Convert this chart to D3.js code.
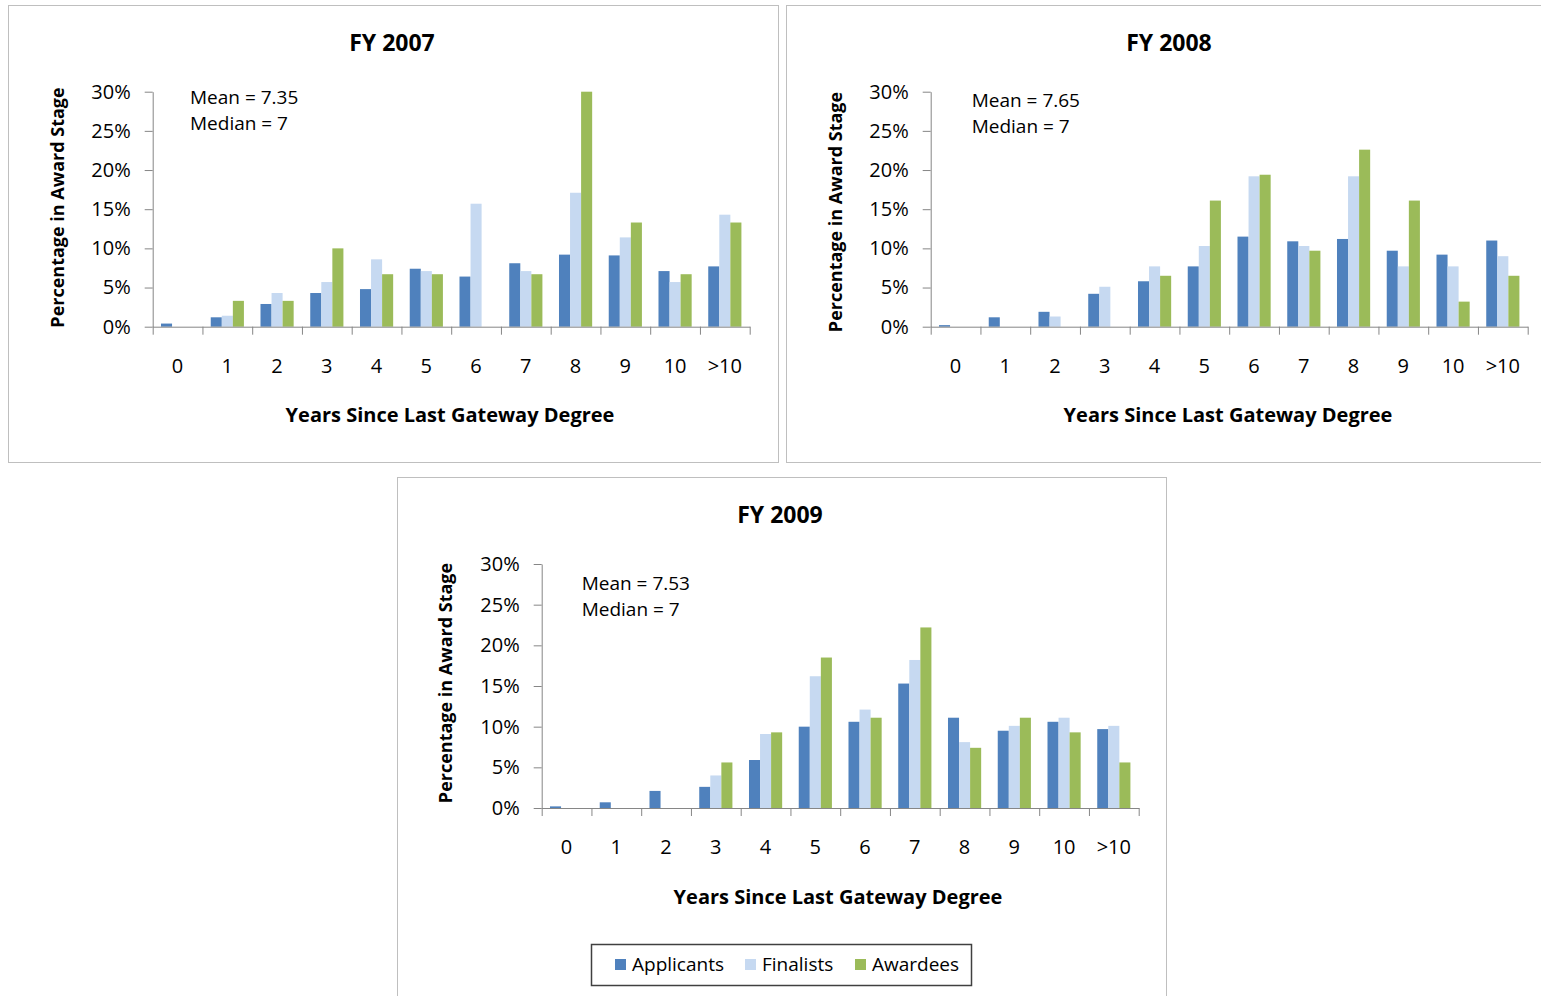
<!DOCTYPE html>
<html>
<head>
<meta charset="utf-8">
<script src="https://cdn.jsdelivr.net/npm/d3@7"></script>
<style>
  body { margin: 0; background: #fff; }
  svg text { font-family: "Open Sans", sans-serif; fill: #000; }
</style>
</head>
<body>
<div id="chart"></div>
<script>

// categories and series
var categories = ["0", "1", "2", "3", "4", "5", "6", "7", "8", "9", "10", ">10"];
var seriesNames = ["Applicants", "Finalists", "Awardees"];
var yTicks = [0, 5, 10, 15, 20, 25, 30];

// FY 2007 (% in award stage)
var applicants2007 = [0.4, 1.2, 2.9, 4.3, 4.8, 7.4, 6.4, 8.1, 9.2, 9.1, 7.1, 7.7];
var finalists2007  = [0, 1.4, 4.3, 5.7, 8.6, 7.1, 15.7, 7.1, 17.1, 11.4, 5.7, 14.3];
var awardees2007   = [0, 3.3, 3.3, 10.0, 6.7, 6.7, 0, 6.7, 30.0, 13.3, 6.7, 13.3];

// FY 2008
var applicants2008 = [0.2, 1.2, 1.9, 4.2, 5.8, 7.7, 11.5, 10.9, 11.2, 9.7, 9.2, 11.0];
var finalists2008  = [0, 0, 1.3, 5.1, 7.7, 10.3, 19.2, 10.3, 19.2, 7.7, 7.7, 9.0];
var awardees2008   = [0, 0, 0, 0, 6.5, 16.1, 19.4, 9.7, 22.6, 16.1, 3.2, 6.5];

// FY 2009
var applicants2009 = [0.2, 0.7, 2.1, 2.6, 5.9, 10.0, 10.6, 15.3, 11.1, 9.5, 10.6, 9.7];
var finalists2009  = [0, 0, 0, 4.0, 9.1, 16.2, 12.1, 18.2, 8.1, 10.1, 11.1, 10.1];
var awardees2009   = [0, 0, 0, 5.6, 9.3, 18.5, 11.1, 22.2, 7.4, 11.1, 9.3, 5.6];

var titles = ["FY 2007", "FY 2008", "FY 2009"];
var means = ["7.35", "7.65", "7.53"];
var medians = ["7", "7", "7"];

var width = 1541,
    height = 996;

var color = d3.scaleOrdinal()
    .domain(seriesNames)
    .range(["#4f81bd", "#c6d9f1", "#9bbb59"]);

var svg = d3.select("#chart")
  .append("svg")
    .attr("width", width)
    .attr("height", height);

// layout of the three panels
var panels = [
  {title: titles[0], mean: means[0], median: medians[0],
   values: [applicants2007, finalists2007, awardees2007],
   box: [8.5, 5.5, 770, 457], plot: [152.7, 91.7, 597, 235],
   titlePos: [392, 51], yTitle: [57, 207.5], xTitle: [450, 422], note: [190, 104]},
  {title: titles[1], mean: means[1], median: medians[1],
   values: [applicants2008, finalists2008, awardees2008],
   box: [786.5, 5.5, 780, 457], plot: [930.7, 91.7, 597, 235],
   titlePos: [1169, 51], yTitle: [835, 212], xTitle: [1228, 422], note: [971.7, 107]},
  {title: titles[2], mean: means[2], median: medians[2],
   values: [applicants2009, finalists2009, awardees2009],
   box: [397.5, 477.5, 769, 540], plot: [541.7, 564, 597, 244],
   titlePos: [780, 523], yTitle: [445, 683], xTitle: [838, 904], note: [581.7, 590]}
];

panels.forEach(function(p) {
  var left = p.plot[0], top = p.plot[1], w = p.plot[2], h = p.plot[3];

  svg.append("rect")
    .attr("x", p.box[0]).attr("y", p.box[1])
    .attr("width", p.box[2]).attr("height", p.box[3])
    .attr("fill", "none")
    .attr("stroke", "#bfbfbf")
    .attr("stroke-width", 1);

  var x0 = d3.scaleBand()
    .domain(categories)
    .range([0, w]);

  var x1 = d3.scaleBand()
    .domain(seriesNames)
    .range([0, x0.bandwidth()])
    .paddingOuter(0.75);

  var y = d3.scaleLinear()
    .domain([0, 30])
    .range([h, 0]);

  var g = svg.append("g")
    .attr("transform", "translate(" + left + "," + top + ")");

  // bars
  var rows = categories.map(function(c, i) {
    return {cat: c, vals: seriesNames.map(function(s, j) {
      return {series: s, value: p.values[j][i]};
    })};
  });

  g.selectAll("g.cat")
    .data(rows)
    .enter()
    .append("g")
      .attr("class", "cat")
      .attr("transform", function(d) { return "translate(" + x0(d.cat) + ",0)"; })
    .selectAll("rect")
    .data(function(d) { return d.vals.filter(function(v) { return v.value > 0; }); })
    .enter()
    .append("rect")
      .attr("x", function(d) { return x1(d.series); })
      .attr("y", function(d) { return y(d.value); })
      .attr("width", x1.bandwidth())
      .attr("height", function(d) { return h - y(d.value); })
      .attr("fill", function(d) { return color(d.series); });

  // y axis
  var yAxis = g.append("g")
    .call(d3.axisLeft(y)
      .tickValues(yTicks)
      .tickSize(8)
      .tickSizeOuter(0)
      .tickPadding(14)
      .tickFormat(function(d) { return d + "%"; }));

  yAxis.select(".domain").attr("stroke", "#868686");
  yAxis.selectAll(".tick line").attr("stroke", "#868686");
  yAxis.selectAll(".tick text")
    .attr("font-size", "20px")
    .attr("font-family", "Open Sans");

  // x axis: ticks at band edges, labels centred in bands
  var edges = d3.scaleLinear().domain([0, categories.length]).range([0, w]);
  var xTicks = g.append("g")
    .attr("transform", "translate(0," + h + ")")
    .call(d3.axisBottom(edges)
      .ticks(categories.length)
      .tickSize(8)
      .tickSizeOuter(0)
      .tickFormat(""));
  xTicks.select(".domain").attr("stroke", "#868686");
  xTicks.selectAll(".tick line").attr("stroke", "#868686");

  var xLabels = g.append("g")
    .attr("transform", "translate(0," + h + ")")
    .call(d3.axisBottom(x0).tickSize(0).tickPadding(32));
  xLabels.select(".domain").remove();
  xLabels.selectAll(".tick text")
    .attr("font-size", "20px")
    .attr("font-family", "Open Sans");

  // titles
  svg.append("text")
    .attr("x", p.titlePos[0])
    .attr("y", p.titlePos[1])
    .attr("text-anchor", "middle")
    .attr("font-size", "23px")
    .attr("font-weight", "bold")
    .text(p.title);

  svg.append("text")
    .attr("transform", "translate(" + p.yTitle[0] + "," + p.yTitle[1] + ") rotate(-90)")
    .attr("text-anchor", "middle")
    .attr("dominant-baseline", "central")
    .attr("font-size", "18px")
    .attr("font-weight", "bold")
    .text("Percentage in Award Stage");

  svg.append("text")
    .attr("x", p.xTitle[0])
    .attr("y", p.xTitle[1])
    .attr("text-anchor", "middle")
    .attr("font-size", "20px")
    .attr("font-weight", "bold")
    .text("Years Since Last Gateway Degree");

  svg.append("text")
    .attr("x", p.note[0])
    .attr("y", p.note[1])
    .attr("font-size", "19px")
    .text("Mean = " + p.mean);

  svg.append("text")
    .attr("x", p.note[0])
    .attr("y", p.note[1] + 26)
    .attr("font-size", "19px")
    .text("Median = " + p.median);
});

// legend
var legend = svg.append("g");
legend.append("rect")
  .attr("x", 591.5).attr("y", 944.5)
  .attr("width", 380).attr("height", 41)
  .attr("fill", "none")
  .attr("stroke", "#404040")
  .attr("stroke-width", 1.5);

var legendX = [615, 745, 855];
var item = legend.selectAll("g.item")
  .data(seriesNames)
  .enter()
  .append("g")
    .attr("class", "item")
    .attr("transform", function(d, i) { return "translate(" + legendX[i] + ",959)"; });

item.append("rect")
  .attr("width", 11).attr("height", 11)
  .attr("fill", function(d) { return color(d); });

item.append("text")
  .attr("x", 17)
  .attr("y", 11.5)
  .attr("font-size", "19px")
  .text(function(d) { return d; });

</script>
</body>
</html>
